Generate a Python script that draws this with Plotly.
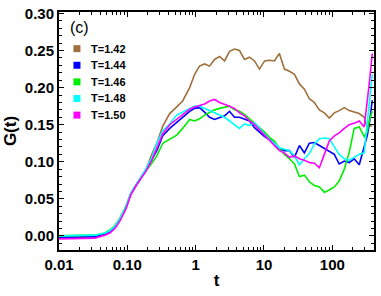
import plotly.graph_objects as go

t = [0.01, 0.0203, 0.0336, 0.047, 0.0556, 0.0658, 0.0778, 0.0951, 0.112, 0.133,
     0.157, 0.186, 0.228, 0.270, 0.330, 0.417, 0.528, 0.646, 0.817, 0.966,
     1.14, 1.35, 1.60, 1.89, 2.24, 2.65, 3.13, 3.70, 4.38, 5.19,
     6.14, 7.26, 8.59, 10.2, 12.0, 14.2, 16.8, 19.9, 23.6, 27.9,
     33.0, 39.0, 46.1, 54.6, 64.6, 76.4, 90.4, 107, 126, 150,
     177, 209, 248, 293, 324, 347, 384]

g142 = [-0.002, -0.002, -0.001, 0.003, 0.006, 0.012, 0.022, 0.038, 0.056, 0.068,
        0.078, 0.089, 0.110, 0.125, 0.148, 0.165, 0.174, 0.182, 0.200, 0.218,
        0.229, 0.232, 0.229, 0.238, 0.242, 0.236, 0.249, 0.252, 0.250, 0.238,
        0.241, 0.236, 0.225, 0.236, 0.237, 0.236, 0.246, 0.225, 0.222, 0.218,
        0.205, 0.198, 0.185, 0.180, 0.170, 0.166, 0.159, 0.166, 0.169, 0.173,
        0.169, 0.167, 0.165, 0.160, 0.146, 0.149, 0.148]
g144 = [-0.002, -0.002, -0.001, 0.003, 0.006, 0.012, 0.022, 0.038, 0.056, 0.068,
        0.078, 0.088, 0.103, 0.115, 0.135, 0.145, 0.153, 0.160, 0.168, 0.172,
        0.173, 0.167, 0.160, 0.157, 0.159, 0.162, 0.168, 0.160, 0.160, 0.158,
        0.155, 0.146, 0.140, 0.134, 0.130, 0.125, 0.118, 0.115, 0.115, 0.106,
        0.122, 0.112, 0.125, 0.126, 0.122, 0.118, 0.113, 0.110, 0.097, 0.101,
        0.099, 0.104, 0.096, 0.119, 0.135, 0.150, 0.183]
g146 = [0.000, 0.000, 0.001, 0.004, 0.008, 0.014, 0.024, 0.040, 0.057, 0.068,
        0.078, 0.087, 0.098, 0.108, 0.125, 0.131, 0.136, 0.145, 0.157, 0.155,
        0.158, 0.163, 0.167, 0.170, 0.172, 0.174, 0.175, 0.170, 0.168, 0.164,
        0.158, 0.152, 0.147, 0.140, 0.133, 0.128, 0.118, 0.110, 0.104, 0.097,
        0.080, 0.082, 0.073, 0.068, 0.066, 0.059, 0.062, 0.066, 0.074, 0.090,
        0.113, 0.145, 0.147, 0.134, 0.140, 0.155, 0.168]
g148 = [0.000, 0.000, 0.001, 0.004, 0.007, 0.013, 0.023, 0.039, 0.057, 0.068,
        0.079, 0.090, 0.106, 0.125, 0.142, 0.151, 0.163, 0.167, 0.172, 0.175,
        0.175, 0.172, 0.170, 0.166, 0.164, 0.160, 0.155, 0.150, 0.145, 0.151,
        0.149, 0.153, 0.145, 0.138, 0.130, 0.125, 0.119, 0.117, 0.115, 0.108,
        0.096, 0.104, 0.111, 0.124, 0.131, 0.132, 0.131, 0.120, 0.110, 0.104,
        0.102, 0.106, 0.110, 0.112, 0.150, 0.180, 0.218]
g150 = [-0.004, -0.004, -0.003, 0.001, 0.004, 0.010, 0.020, 0.036, 0.055, 0.067,
        0.077, 0.087, 0.102, 0.118, 0.138, 0.150, 0.157, 0.163, 0.171, 0.174,
        0.176, 0.178, 0.182, 0.184, 0.180, 0.178, 0.175, 0.172, 0.166, 0.162,
        0.155, 0.150, 0.143, 0.136, 0.130, 0.122, 0.115, 0.112, 0.106, 0.108,
        0.104, 0.102, 0.099, 0.098, 0.092, 0.110, 0.128, 0.135, 0.139, 0.145,
        0.150, 0.152, 0.155, 0.147, 0.180, 0.205, 0.246]

names = ["T=1.42", "T=1.44", "T=1.46", "T=1.48", "T=1.50"]
colors = ["#A0703C", "#0000FF", "#00EE00", "#00FFFF", "#FF00FF"]
series = [g142, g144, g146, g148, g150]

x_tickvals = [0.01, 0.1, 1, 10, 100]
x_ticktext = ["0.01", "0.10", "1", "10", "100"]
y_tickvals = [0.0, 0.05, 0.10, 0.15, 0.20, 0.25, 0.30]

fig = go.Figure()
for name, col, ys in zip(names, colors, series):
    fig.add_trace(go.Scatter(x=t, y=ys, mode="lines", name=name,
                             line=dict(color=col, width=1.6), showlegend=False))

# legend drawn by hand: small squares + bold labels, tighter than plotly's own
leg_x, leg_y, leg_step = 0.057, 0.846, 0.0698
for i, (name, col) in enumerate(zip(names, colors)):
    yy = leg_y - i * leg_step
    fig.add_shape(type="rect", xref="paper", yref="paper",
                  xsizemode="pixel", ysizemode="pixel", xanchor=leg_x, yanchor=yy,
                  x0=-3.5, x1=3.5, y0=-3.5, y1=3.5, fillcolor=col, line_width=0)
    fig.add_annotation(text=name, xref="paper", yref="paper", x=leg_x + 0.038, y=yy,
                       xanchor="left", yanchor="middle", showarrow=False,
                       font=dict(family="Liberation Sans", size=11, color="black", weight="bold"))

minor_x = [m * 10 ** e for e in range(-2, 3) for m in range(2, 10)]

axis_common = dict(showline=True, linecolor="black", linewidth=2, mirror="ticks",
                   ticks="inside", ticklen=5, tickwidth=1.3, tickcolor="black",
                   showgrid=False, zeroline=False,
                   tickfont=dict(family="Liberation Sans", size=15, color="black", weight="bold"))

fig.update_xaxes(type="log", range=[-2, 2.61], tickvals=x_tickvals, ticktext=x_ticktext,
                 minor=dict(tickvals=minor_x, ticks="inside", ticklen=3, tickcolor="black"),
                 title=dict(text="t", font=dict(family="Liberation Sans", size=17, color="black", weight="bold"),
                            standoff=2),
                 **axis_common)
fig.update_yaxes(range=[-0.019, 0.302], tickvals=y_tickvals, tickformat=".2f",
                 minor=dict(dtick=0.01, ticks="inside", ticklen=3, tickcolor="black"),
                 title=dict(text="G(t)", font=dict(family="Liberation Sans", size=17, color="black", weight="bold"),
                            standoff=4),
                 **axis_common)

fig.add_annotation(text="(c)", xref="paper", yref="paper", x=0.028, y=0.935,
                   xanchor="left", yanchor="middle", showarrow=False,
                   font=dict(family="Liberation Sans", size=16, color="black"))

fig.update_layout(
    width=381, height=296,
    margin=dict(l=59, r=5, t=10, b=46),
    plot_bgcolor="white", paper_bgcolor="white",
    showlegend=False,
)

# drop the browser's default 8px body margin so the figure sits at the window corner
fig.write_html("out.html", config={"displayModeBar": False},
               post_script="document.body.style.margin='0';")
